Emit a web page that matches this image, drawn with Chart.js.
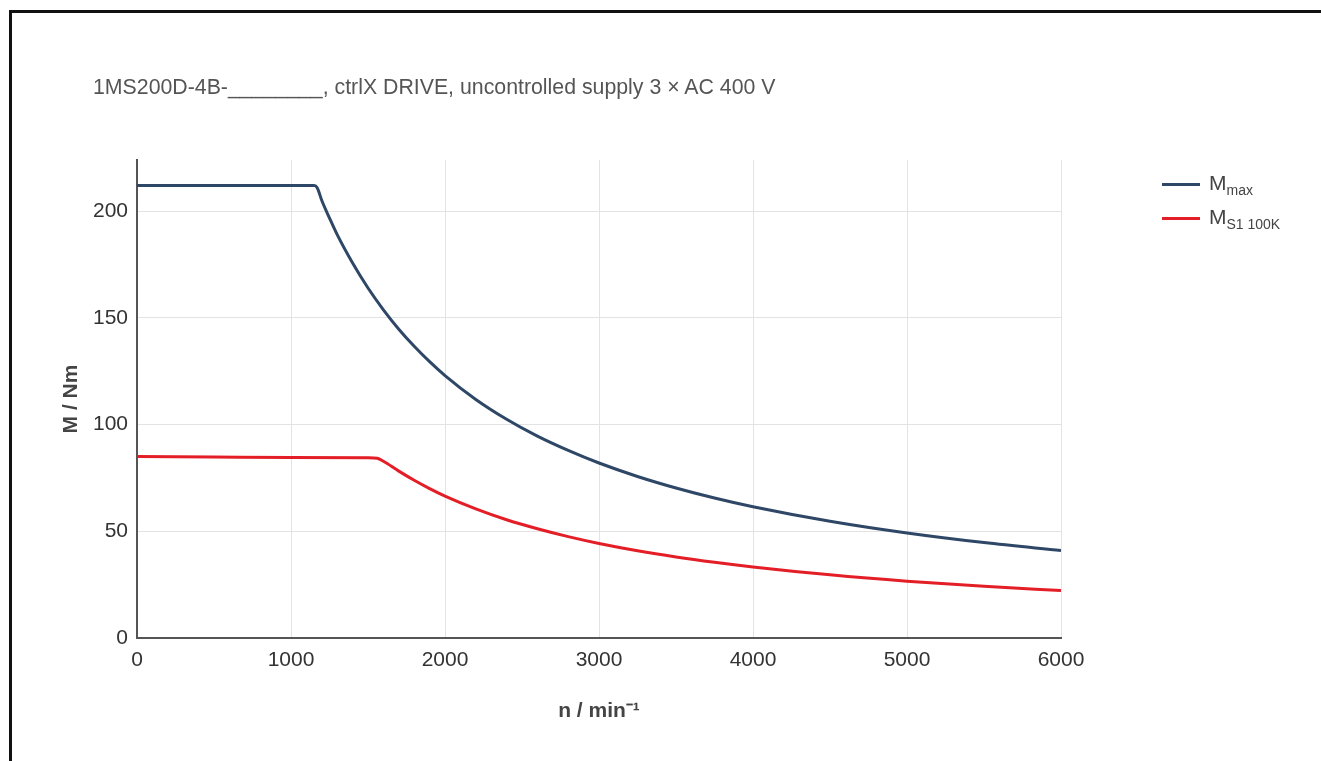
<!DOCTYPE html>
<html lang="en">
<head>
    <meta charset="UTF-8">
    <title>1MS200D-4B torque curve</title>
    <script src="https://cdn.jsdelivr.net/npm/chart.js"></script>
    <style>
        html, body { margin: 0; padding: 0; background: #fff; overflow: hidden; }
        body { width: 1321px; height: 761px; position: relative; font-family: "Liberation Sans", Arial, sans-serif; }
        #frame { position: absolute; left: 9px; top: 10px; width: 1400px; height: 800px;
                 border-left: 3px solid #111; border-top: 3px solid #111; }
        #title { position: absolute; left: 93px; top: 75px; font-size: 21.3px; color: #555; white-space: nowrap; }
        #chart-box { position: absolute; left: 0; top: 0; width: 1321px; height: 761px; }
        #legend { position: absolute; left: 1162px; top: 167px; font-size: 21px; color: #444; }
        #legend .row { height: 34px; display: flex; align-items: center; }
        #legend .swatch { width: 38px; height: 3px; margin-right: 9px; }
        #legend sub { font-size: 14px; vertical-align: -5px; }
    </style>
</head>
<body>
    <div id="frame"></div>
    <div id="chart-box"><canvas id="torqueChart" width="1321" height="761"></canvas></div>
    <div id="title">1MS200D-4B-________, ctrlX DRIVE, uncontrolled supply 3 × AC 400 V</div>

    <!-- legend with subscripts -->
    <div id="legend">
        <div class="row"><span class="swatch" style="background:#2f4766"></span><span>M<sub>max</sub></span></div>
        <div class="row"><span class="swatch" style="background:#e41e26"></span><span>M<sub>S1 100K</sub></span></div>
    </div>

    <script>
        // speed n / min^-1 and torque M / Nm
        const maxSpeed = [0, 500, 1000, 1150, 1170, 1200, 1250, 1300, 1400, 1500, 1600, 1700, 1800, 1900, 2000,
                          2200, 2400, 2600, 2800, 3000, 3250, 3500, 3750, 4000, 4500, 5000, 5500, 6000];
        const maxTorque = [212, 212, 212, 212, 211, 205, 196.8, 189, 175.7, 164, 153.8, 144.7, 136.7, 129.5, 123,
                           111.8, 102.5, 94.6, 87.9, 82, 75.7, 70.3, 65.6, 61.5, 54.7, 49.2, 44.7, 41];

        const s1Speed = [0, 500, 1000, 1500, 1560, 1600, 1700, 1800, 1900, 2000, 2200, 2400, 2600, 2800,
                         3000, 3250, 3500, 3750, 4000, 4500, 5000, 5500, 6000];
        const s1Torque = [85, 84.8, 84.6, 84.5, 84.2, 82.8, 78.2, 73.9, 70, 66.5, 60.5, 55.4, 51.2, 47.5,
                          44.3, 40.9, 38, 35.5, 33.3, 29.6, 26.6, 24.2, 22.2];

        const xTicks = [0, 1000, 2000, 3000, 4000, 5000, 6000];
        const yTicks = [0, 50, 100, 150, 200];

        function toPoints(xs, ys) {
            return xs.map((x, i) => ({ x: x, y: ys[i] }));
        }

        const ctx = document.getElementById('torqueChart').getContext('2d');

        new Chart(ctx, {
            type: 'line',
            data: {
                datasets: [{
                    label: 'Mmax',
                    data: toPoints(maxSpeed, maxTorque),
                    borderColor: '#2f4766',
                    borderWidth: 3,
                    pointRadius: 0,
                    fill: false,
                    cubicInterpolationMode: 'monotone'
                }, {
                    label: 'MS1 100K',
                    data: toPoints(s1Speed, s1Torque),
                    borderColor: '#e41e26',
                    borderWidth: 3,
                    pointRadius: 0,
                    fill: false,
                    cubicInterpolationMode: 'monotone'
                }]
            },
            options: {
                responsive: false,
                animation: false,
                layout: { padding: { left: 59, right: 260, top: 160, bottom: 30 } },
                plugins: {
                    legend: { display: false },
                    tooltip: { enabled: false }
                },
                scales: {
                    x: {
                        type: 'linear',
                        min: 0,
                        max: 6000,
                        afterBuildTicks: (scale) => { scale.ticks = xTicks.map(v => ({ value: v })); },
                        afterFit: (scale) => { scale.height = 93; },
                        border: { color: '#555', width: 2 },
                        grid: { color: '#e3e3e3', drawTicks: false },
                        ticks: {
                            color: '#333', padding: 10,
                            font: { size: 21, family: 'Liberation Sans' },
                            callback: (v) => String(v)
                        },
                        title: {
                            display: true,
                            text: 'n / min⁻¹',
                            color: '#444',
                            padding: { top: 12, bottom: 7 },
                            font: { size: 21, weight: 'bold', family: 'Liberation Sans' }
                        }
                    },
                    y: {
                        min: 0,
                        max: 224,
                        afterBuildTicks: (scale) => { scale.ticks = yTicks.map(v => ({ value: v })); },
                        afterFit: (scale) => { scale.width = 78; },
                        border: { color: '#555', width: 2 },
                        grid: { color: '#e3e3e3', drawTicks: false },
                        ticks: { color: '#333', padding: 9, font: { size: 21, family: 'Liberation Sans' } },
                        title: {
                            display: true,
                            text: 'M / Nm',
                            color: '#444',
                            padding: 0,
                            font: { size: 21, weight: 'bold', family: 'Liberation Sans' }
                        }
                    }
                }
            }
        });
    </script>
</body>
</html>
